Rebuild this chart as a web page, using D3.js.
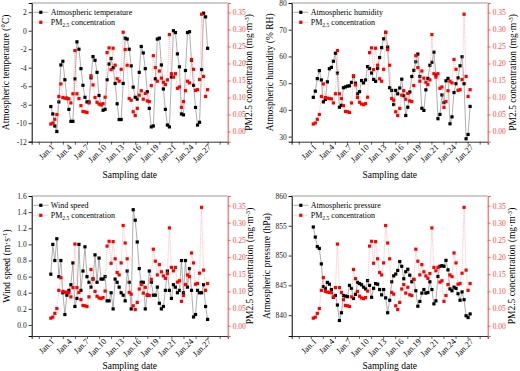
<!DOCTYPE html>
<html>
<head>
<meta charset="utf-8">
<script src="https://cdn.jsdelivr.net/npm/d3@7"></script>
<style>
	body { margin: 0; background: #fff; }
	svg { display: block; }
	text { font-family: 'Liberation Serif', 'Times New Roman', serif; }
</style>
</head>
<body>
<svg width="520" height="371"></svg>
<script>
// Sampling date labels on the x axis (the original figure has "Jan.21" after "Jan.19")
const dateLabels = ['Jan.1', 'Jan.4', 'Jan.7', 'Jan.10', 'Jan.13', 'Jan.16', 'Jan.19', 'Jan.21', 'Jan.24', 'Jan.27'];
// where those labels sit, in sample number
const datePos = [1, 9.7, 18.3, 27, 35.7, 44.3, 53, 61.7, 70.3, 79];

// PM2.5 concentration (mg/m3), same series in the four panels
const pm25 = [
	0.022, 0.025, 0.036, 0.050, 0.103, 0.140, 0.100, 0.098, 0.097, 0.096,
	0.084, 0.111, 0.238, 0.111, 0.097, 0.076, 0.059, 0.058, 0.056, 0.084,
	0.164, 0.137, 0.100, 0.086, 0.081, 0.079, 0.082, 0.101, 0.232, 0.246,
	0.182, 0.245, 0.195, 0.155, 0.148, 0.183, 0.292, 0.241, 0.195, 0.097,
	0.092, 0.058, 0.047, 0.068, 0.107, 0.120, 0.095, 0.112, 0.090, 0.088,
	0.135, 0.223, 0.188, 0.148, 0.178, 0.157, 0.145, 0.138, 0.152, 0.285,
	0.170, 0.160, 0.170, 0.127, 0.131, 0.071, 0.088, 0.120, 0.148, 0.143,
	0.212, 0.183, 0.121, 0.123, 0.153, 0.345, 0.162, 0.103, 0.123
];

// Atmospheric temperature (C)
const temperature = [
	-8.2, -9.0, -10.3, -10.9, -7.7, -3.7, -3.3, -5.3, -7.3, -8.5,
	-9.8, -9.8, -5.2, -1.2, -2.0, -4.1, -5.9, -7.2, -7.7, -7.7,
	-5.1, -2.8, -3.2, -4.5, -7.0, -8.0, -8.6, -8.5, -5.3, -3.6,
	-3.0, -4.0, -5.7, -7.9, -9.6, -9.6, -5.7, -0.8, -0.9, -2.0,
	-3.8, -6.1, -7.2, -7.4, -4.5, -1.7, -2.4, -4.1, -6.6, -8.4,
	-10.4, -10.3, -5.2, -0.9, -0.8, -3.7, -6.3, -8.5, -10.2, -10.4,
	-5.0, 0.0, -0.2, -2.5, -3.9, -9.0, -9.1, -4.3, -0.2, -0.1,
	-3.2, -5.9, -8.3, -10.2, -9.9, -4.2, 1.9, 1.5, -1.9
];

// Atmospheric humidity (% RH)
const humidity = [
	44.7, 47.0, 51.7, 54.7, 51.2, 43.0, 43.9, 50.5, 55.4, 55.9,
	58.2, 61.2, 53.8, 41.0, 41.7, 48.3, 48.6, 48.9, 49.0, 50.3,
	52.5, 50.0, 46.0, 46.8, 51.0, 50.1, 51.2, 56.2, 55.5, 53.8,
	51.4, 50.7, 55.5, 59.6, 63.3, 66.6, 69.0, 63.5, 48.3, 47.3,
	42.0, 47.3, 46.0, 48.2, 51.5, 45.3, 37.9, 41.0, 46.7, 52.5,
	54.8, 58.0, 60.9, 52.5, 40.6, 39.8, 47.5, 51.8, 56.7, 57.8,
	61.6, 53.0, 36.7, 38.3, 45.6, 42.7, 50.9, 51.8, 34.8, 37.4,
	46.5, 49.8, 52.0, 56.5, 59.9, 49.8, 29.2, 30.8, 41.3
];

// Wind speed (m/s)
const windSpeed = [
	0.63, 1.00, 0.80, 1.07, 0.60, 0.80, 0.40, 0.13, 0.37, 0.43,
	0.50, 0.77, 0.23, 0.33, 1.00, 0.43, 0.67, 0.97, 0.60, 0.53,
	0.47, 0.57, 0.87, 0.53, 0.83, 0.57, 0.57, 0.60, 0.30, 0.30,
	0.40, 0.20, 0.57, 0.53, 0.47, 0.40, 0.37, 0.30, 0.67, 0.53,
	0.20, 1.43, 1.30, 1.03, 0.70, 0.53, 0.53, 0.20, 0.37, 0.67,
	0.53, 0.37, 0.37, 0.47, 0.27, 0.20, 0.23, 0.43, 0.67, 0.43,
	0.33, 0.50, 0.47, 0.40, 0.43, 0.80, 0.40, 0.80, 0.47, 0.70,
	0.43, 0.10, 0.13, 0.43, 0.40, 0.40, 0.50, 0.23, 0.07
];

// Atmospheric pressure (hPa)
const pressure = [
	854.8, 853.1, 851.5, 851.2, 848.6, 844.8, 844.5, 845.5, 845.2, 844.3,
	843.0, 843.3, 841.7, 839.1, 840.4, 843.3, 843.2, 843.1, 845.0, 844.5,
	842.8, 843.5, 845.5, 845.3, 845.1, 844.7, 844.4, 845.8, 845.0, 843.0,
	844.5, 845.3, 845.2, 844.3, 843.4, 844.3, 842.9, 840.4, 842.5, 845.6,
	846.6, 846.9, 847.5, 849.0, 848.2, 846.1, 847.3, 847.7, 846.7, 845.6,
	846.0, 844.1, 841.5, 842.3, 843.7, 844.3, 843.7, 843.8, 845.6, 844.3,
	841.9, 842.4, 846.5, 848.2, 848.3, 848.2, 849.2, 847.6, 844.4, 844.1,
	844.7, 844.5, 843.6, 842.5, 843.9, 842.6, 839.9, 839.6, 840.2
];

const leftTicksTemp = [-12, -10, -8, -6, -4, -2, 0, 2];
const leftTicksHum = [30, 40, 50, 60, 70, 80];
const leftTicksWind = [0, 0.2, 0.4, 0.6, 0.8, 1.0, 1.2, 1.4, 1.6];
const leftTicksPres = [840, 845, 850, 855, 860];
const rightTicks = [0, 0.05, 0.10, 0.15, 0.20, 0.25, 0.30, 0.35];

const red = '#ff0000';
const redAxis = '#ff4545';
const W = 196;

const svg = d3.select('svg');

// text with sub / superscript parts
function richText(g, parts, attrs) {
	const t = g.append('text');
	Object.keys(attrs).forEach((k) => t.attr(k, attrs[k]));
	let shift = 0;
	parts.forEach((p) => {
		const s = t.append('tspan').text(p[0]);
		let want = 0;
		if (p[1] === 'sup') want = -3;
		if (p[1] === 'sub') want = 2;
		if (want !== shift) s.attr('dy', want - shift);
		if (p[1]) s.attr('font-size', '70%');
		shift = want;
	});
	return t;
}

const panels = [
	{ x0: 31.7, y0: 3, y1: 141.7, shift: 0, domain: [-12, 3], ticks: leftTicksTemp, fmt: (v) => String(v),
		data: temperature, name: 'Atmospheric temperature',
		title: [['Atmospheric temperature (°C)']], titleX: 9, rTitleX: 251.5, xTitleY: 177.5 },
	{ x0: 291.7, y0: 3, y1: 141.7, shift: 2.5, domain: [28.1, 80], ticks: leftTicksHum, fmt: (v) => String(v),
		data: humidity, name: 'Atmospheric humidity',
		title: [['Atmospheric humidity (% RH)']], titleX: 273, rTitleX: 515.5, xTitleY: 177.5 },
	{ x0: 31.7, y0: 196, y1: 336, shift: 0, domain: [-0.136, 1.6], ticks: leftTicksWind, fmt: d3.format('.1f'),
		data: windSpeed, name: 'Wind speed',
		title: [['Wind speed (m·s'], ['-1', 'sup'], [')']], titleX: 10, rTitleX: 253, xTitleY: 368.5 },
	{ x0: 291.7, y0: 196, y1: 336, shift: 2.5, domain: [836.5, 860], ticks: leftTicksPres, fmt: (v) => String(v),
		data: pressure, name: 'Atmospheric pressure',
		title: [['Atmospheric pressure (hPa)']], titleX: 270, rTitleX: 515, xTitleY: 368.5 }
];

panels.forEach(drawPanel);

function drawPanel(p) {
	const g = svg.append('g').attr('transform', `translate(${p.x0},${p.y0})`);
	const H = p.y1 - p.y0;

	// sample number -> px; right-hand panels sit a little further right in the original
	const x = d3.scaleLinear().domain([-9.5, 88]).range([p.shift, W + p.shift]);
	const xFrame = d3.scaleLinear().domain([-9.5, 88]).range([0, W]);
	const y = d3.scaleLinear().domain(p.domain).range([H, 0]);
	const y2 = d3.scaleLinear().domain([-0.03, 0.378]).range([H, 0]);

	// frame top
	g.append('line').attr('x1', 0).attr('x2', W).attr('y1', 0).attr('y2', 0)
		.attr('stroke', '#999').attr('stroke-width', 1);

	// bottom axis
	const xAxis = g.append('g').attr('transform', `translate(0,${H})`)
		.call(d3.axisBottom(xFrame).tickValues(d3.range(-6, 88, 6)).tickSize(3).tickFormat(''));
	xAxis.select('.domain').attr('stroke', '#333').attr('stroke-width', 1);
	xAxis.selectAll('.tick line').attr('stroke', '#333').attr('stroke-width', 0.8);

	g.selectAll('.date')
		.data(dateLabels)
		.join('text')
		.attr('class', 'date')
		.attr('text-anchor', 'end')
		.attr('font-size', 8.5)
		.attr('transform', (d, i) => `translate(${x(datePos[i]) + 2},${H + 6}) rotate(-45)`)
		.text((d) => d);

	// left axis
	const yAxis = g.append('g')
		.call(d3.axisLeft(y).tickValues(p.ticks).tickSize(3).tickPadding(2).tickFormat(p.fmt));
	yAxis.select('.domain').attr('stroke', '#000').attr('stroke-width', 1);
	yAxis.selectAll('.tick line').attr('stroke', '#000').attr('stroke-width', 0.8);
	yAxis.selectAll('.tick text').attr('font-size', 7.5).attr('font-family', 'Liberation Serif').attr('fill', '#222');

	// right axis (PM2.5)
	const rAxis = g.append('g').attr('transform', `translate(${W},0)`)
		.call(d3.axisRight(y2).tickValues(rightTicks).tickSize(3).tickPadding(2).tickFormat(d3.format('.2f')));
	rAxis.select('.domain').attr('stroke', redAxis).attr('stroke-width', 1);
	rAxis.selectAll('.tick line').attr('stroke', redAxis).attr('stroke-width', 0.8);
	rAxis.selectAll('.tick text').attr('font-size', 7.5).attr('font-family', 'Liberation Serif').attr('fill', redAxis);

	// black series
	const line = d3.line().x((d, i) => x(i)).y((d) => y(d));
	g.append('path').datum(p.data).attr('d', line)
		.attr('fill', 'none').attr('stroke', '#8c8c8c').attr('stroke-width', 0.7);
	g.selectAll('.blk').data(p.data).join('rect').attr('class', 'blk')
		.attr('x', (d, i) => x(i) - 1.6).attr('y', (d) => y(d) - 1.6)
		.attr('width', 3.2).attr('height', 3.2).attr('fill', '#000');

	// red series
	const line2 = d3.line().x((d, i) => x(i)).y((d) => y2(d));
	g.append('path').datum(pm25).attr('d', line2)
		.attr('fill', 'none').attr('stroke', '#ff9c9c').attr('stroke-width', 0.6)
		.attr('stroke-dasharray', '1.2,0.8');
	g.selectAll('.rd').data(pm25).join('rect').attr('class', 'rd')
		.attr('x', (d, i) => x(i) - 1.6).attr('y', (d) => y2(d) - 1.6)
		.attr('width', 3.2).attr('height', 3.2).attr('fill', red);

	// legend
	const lg = g.append('g').attr('transform', 'translate(1.6,9.3)');
	lg.append('line').attr('x1', 0).attr('x2', 15).attr('y1', 0).attr('y2', 0)
		.attr('stroke', '#8c8c8c').attr('stroke-width', 0.7);
	lg.append('rect').attr('x', 5.9).attr('y', -1.6).attr('width', 3.2).attr('height', 3.2).attr('fill', '#000');
	lg.append('text').attr('x', 17.5).attr('y', 2.8).attr('font-size', 8).text(p.name);
	lg.append('line').attr('x1', 0).attr('x2', 15).attr('y1', 10).attr('y2', 10)
		.attr('stroke', '#ff9c9c').attr('stroke-width', 0.6).attr('stroke-dasharray', '1.2,0.8');
	lg.append('rect').attr('x', 5.9).attr('y', 8.4).attr('width', 3.2).attr('height', 3.2).attr('fill', red);
	richText(lg, [['PM'], ['2.5', 'sub'], [' concentration']], { x: 17.5, y: 12.8, 'font-size': 8 });

	// axis titles
	svg.append('text')
		.attr('x', p.x0 + W / 2).attr('y', p.xTitleY)
		.attr('text-anchor', 'middle').attr('font-size', 9.5)
		.text('Sampling date');

	richText(svg, p.title, {
		transform: `translate(${p.titleX},${p.y0 + H / 2}) rotate(-90)`,
		'text-anchor': 'middle', 'font-size': 9.5
	});

	richText(svg, [['PM2.5 concentration (mg·m'], ['-3', 'sup'], [')']], {
		transform: `translate(${p.rTitleX},${p.y0 + H / 2}) rotate(-90)`,
		'text-anchor': 'middle', 'font-size': 9.5
	});
}
</script>
</body>
</html>
